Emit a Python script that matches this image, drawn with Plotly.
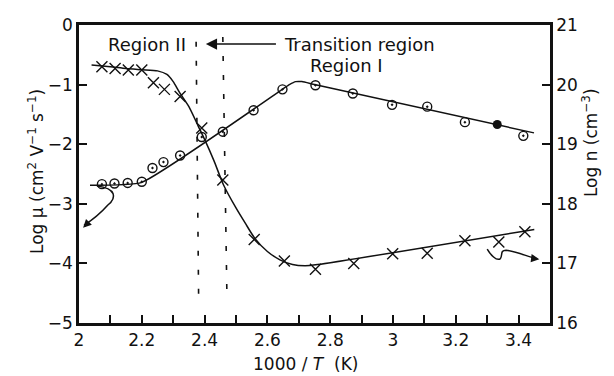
import plotly.graph_objects as go

# ---- data ----
# mobility (left axis, Log mu), open circles with dot
mu_x = [2.073, 2.113, 2.155, 2.200, 2.234, 2.269, 2.322, 2.391, 2.458, 2.556,
        2.648, 2.753, 2.872, 2.997, 3.109, 3.229, 3.415]
mu_y = [-2.67, -2.66, -2.65, -2.63, -2.40, -2.30, -2.19, -1.88, -1.79, -1.43,
        -1.08, -1.01, -1.15, -1.34, -1.37, -1.63, -1.86]
mu_filled_x = [3.332]
mu_filled_y = [-1.67]
# fitted mobility curve
mu_fit_x = [2.035, 2.200, 2.650, 2.670, 2.690, 2.710, 2.750, 3.449]
mu_fit_y = [-2.69, -2.64, -1.07, -1.00, -0.95, -0.95, -1.00, -1.81]

# carrier concentration (right axis, Log n), crosses
n_x = [2.073, 2.115, 2.157, 2.200, 2.237, 2.272, 2.322, 2.391, 2.458, 2.558,
       2.654, 2.753, 2.875, 2.999, 3.109, 3.229, 3.337, 3.420]
n_y = [20.30, 20.27, 20.245, 20.245, 20.03, 19.92, 19.80, 19.27, 18.40, 17.40,
       17.04, 16.90, 17.00, 17.16, 17.17, 17.38, 17.36, 17.53]
# fitted concentration curve
n_fit_x = [2.04, 2.10, 2.15, 2.20, 2.25, 2.28, 2.30, 2.32, 2.35, 2.38, 2.40,
           2.43, 2.46, 2.50, 2.53, 2.56, 2.60, 2.64, 2.68, 2.72, 2.76, 3.45]
n_fit_y = [20.33, 20.30, 20.27, 20.25, 20.23, 20.17, 20.05, 19.87, 19.63, 19.30,
           19.08, 18.72, 18.32, 17.93, 17.67, 17.42, 17.20, 17.06, 16.98, 16.96,
           16.98, 17.57]

# region boundaries (dashed)
bound1_x = [2.373, 2.381]
bound1_y = [-0.28, -4.58]
bound2_x = [2.458, 2.471]
bound2_y = [-0.20, -4.50]

x_ticks = [2.0, 2.2, 2.4, 2.6, 2.8, 3.0, 3.2, 3.4]
x_ticktext = ["2", "2.2", "2.4", "2.6", "2.8", "3", "3.2", "3.4"]
y_left_ticks = [0, -1, -2, -3, -4, -5]
y_right_ticks = [16, 17, 18, 19, 20, 21]

FONT = "DejaVu Sans, Liberation Sans, Arial, sans-serif"
BLACK = "#111111"

fig = go.Figure()

# dashed boundary lines
for bx, by in [(bound1_x, bound1_y), (bound2_x, bound2_y)]:
    fig.add_trace(go.Scatter(x=bx, y=by, mode="lines",
                             line=dict(color=BLACK, width=1.6, dash="5px,14px"),
                             hoverinfo="skip", showlegend=False))

# mobility fit + points
fig.add_trace(go.Scatter(x=mu_fit_x, y=mu_fit_y, mode="lines",
                         line=dict(color=BLACK, width=1.5, shape="spline", smoothing=0.4),
                         showlegend=False))
fig.add_trace(go.Scatter(x=mu_x, y=mu_y, mode="markers",
                         marker=dict(symbol="circle-open-dot", size=9, color=BLACK,
                                     line=dict(width=1.4, color=BLACK)),
                         showlegend=False))
fig.add_trace(go.Scatter(x=mu_filled_x, y=mu_filled_y, mode="markers",
                         marker=dict(symbol="circle", size=9, color=BLACK),
                         showlegend=False))

# concentration fit + points (right axis)
fig.add_trace(go.Scatter(x=n_fit_x, y=n_fit_y, mode="lines", yaxis="y2",
                         line=dict(color=BLACK, width=1.5, shape="spline", smoothing=0.6),
                         showlegend=False))
fig.add_trace(go.Scatter(x=n_x, y=n_y, mode="markers", yaxis="y2",
                         marker=dict(symbol="x-thin-open", size=11, color=BLACK,
                                     line=dict(width=1.4, color=BLACK)),
                         showlegend=False))

# curly pointer arrows (decorations)
fig.add_shape(type="path", xref="x", yref="y",
              path="M 2.057 -2.70 C 2.12 -2.74, 2.12 -2.90, 2.092 -3.02 C 2.07 -3.15, 2.04 -3.28, 2.016 -3.36",
              line=dict(color=BLACK, width=1.5))
fig.add_annotation(x=2.013, y=-3.40, ax=6, ay=-6, xref="x", yref="y", text="",
                   showarrow=True, arrowhead=2, arrowsize=1.1, arrowwidth=1.5,
                   arrowcolor=BLACK)
fig.add_shape(type="path", xref="x", yref="y",
              path="M 3.300 -3.76 C 3.31 -3.85, 3.33 -3.97, 3.342 -3.92 C 3.35 -3.86, 3.34 -3.78, 3.36 -3.78 C 3.40 -3.80, 3.43 -3.90, 3.458 -3.92",
              line=dict(color=BLACK, width=1.5))
fig.add_annotation(x=3.466, y=-3.93, ax=-8, ay=-1, xref="x", yref="y", text="",
                   showarrow=True, arrowhead=2, arrowsize=1.1, arrowwidth=1.5,
                   arrowcolor=BLACK)

# text labels
lbl = dict(family=FONT, size=18, color=BLACK)
fig.add_annotation(x=2.215, y=-0.32, xref="x", yref="y", text="Region II",
                   showarrow=False, font=lbl)
fig.add_annotation(x=2.893, y=-0.32, xref="x", yref="y", text="Transition region",
                   showarrow=False, font=lbl)
fig.add_annotation(x=2.853, y=-0.68, xref="x", yref="y", text="Region I",
                   showarrow=False, font=lbl)
fig.add_annotation(x=2.404, y=-0.32, ax=2.632, ay=-0.32, xref="x", yref="y",
                   axref="x", ayref="y", text="", showarrow=True, arrowhead=2,
                   arrowsize=1.6, arrowwidth=1.4, arrowcolor=BLACK)

# axis titles
tf = dict(family=FONT, size=17, color=BLACK)
fig.add_annotation(x=-0.119, y=0.51, xref="paper", yref="paper",
                   text="Log \u03bc (cm<sup>2</sup> V<sup>\u22121</sup> s<sup>\u22121</sup>)",
                   textangle=-90, showarrow=False, font=tf)
fig.add_annotation(x=1.1125, y=0.607, xref="paper", yref="paper",
                   text="Log n (cm<sup>\u22123</sup>)",
                   textangle=-90, showarrow=False, font=tf)
fig.add_annotation(x=0.48, y=-0.138, xref="paper", yref="paper",
                   text="1000 / <i>T</i>  (K)", showarrow=False, font=tf,
                   yanchor="middle")

tick_font = dict(family=FONT, size=17, color=BLACK)
fig.update_layout(
    width=614, height=376,
    margin=dict(l=79, r=64, t=25, b=53),
    paper_bgcolor="white", plot_bgcolor="white",
    showlegend=False,
    xaxis=dict(range=[2, 3.5], tickvals=x_ticks, ticktext=x_ticktext,
               ticks="inside", ticklen=8, tickwidth=2, tickcolor=BLACK,
               minor=dict(dtick=0.1, tick0=2, ticks="inside", ticklen=8,
                          tickwidth=2, tickcolor=BLACK),
               showline=True, linewidth=2.5, linecolor=BLACK, mirror=True,
               showgrid=False, zeroline=False, tickfont=tick_font),
    yaxis=dict(range=[-5, 0], tickvals=y_left_ticks, ticks="inside", ticklen=8,
               tickwidth=2, tickcolor=BLACK, showline=True, linewidth=2.5,
               linecolor=BLACK, showgrid=False, zeroline=False,
               tickfont=tick_font),
    yaxis2=dict(range=[16, 21], tickvals=y_right_ticks, overlaying="y",
                side="right", ticks="inside", ticklen=8, tickwidth=2,
                tickcolor=BLACK, showline=True, linewidth=2.5, linecolor=BLACK,
                showgrid=False, zeroline=False, tickfont=tick_font),
)

fig.write_html("out.html")
